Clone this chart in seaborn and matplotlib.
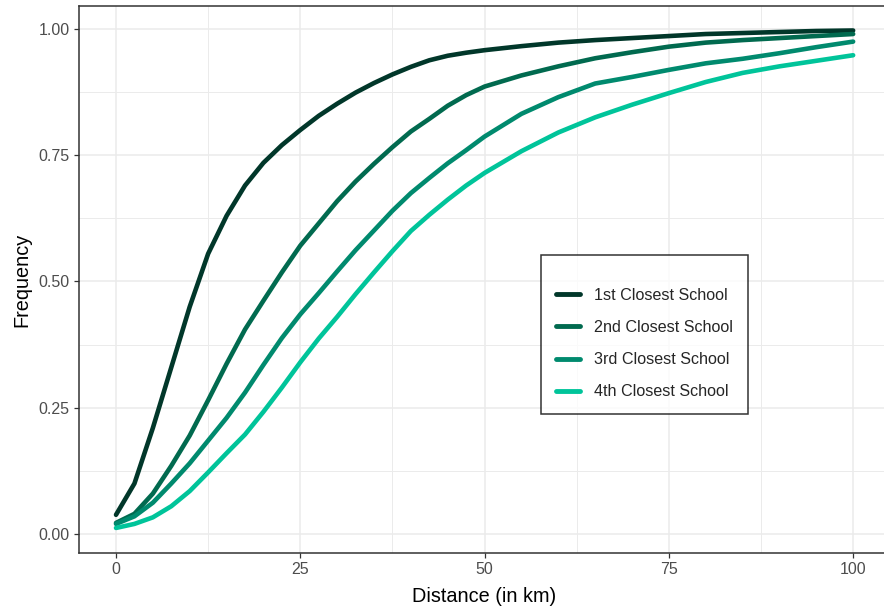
import matplotlib
matplotlib.use("Agg")
import matplotlib.pyplot as plt
from matplotlib.ticker import MultipleLocator
import seaborn as sns
import numpy as np
import pandas as pd

# distance grid (km)
distance = [0, 2.5, 5, 7.5, 10, 12.5, 15, 17.5, 20, 22.5, 25, 27.5, 30, 32.5,
            35, 37.5, 40, 42.5, 45, 47.5, 50, 55, 60, 65, 70, 75, 80, 85, 90, 95, 100]

# cumulative share of students within a given distance
first = [0.038, 0.10, 0.21, 0.33, 0.45, 0.555, 0.63, 0.69, 0.735, 0.77, 0.80,
         0.828, 0.852, 0.874, 0.893, 0.91, 0.925, 0.938, 0.947, 0.953, 0.958,
         0.966, 0.973, 0.978, 0.982, 0.986, 0.99, 0.992, 0.994, 0.996, 0.997]
second = [0.022, 0.04, 0.08, 0.135, 0.195, 0.265, 0.337, 0.405, 0.462, 0.518,
          0.571, 0.615, 0.659, 0.698, 0.733, 0.766, 0.797, 0.822, 0.848, 0.869,
          0.886, 0.908, 0.926, 0.942, 0.954, 0.965, 0.973, 0.978, 0.982, 0.986, 0.99]
third = [0.02, 0.035, 0.062, 0.10, 0.14, 0.185, 0.23, 0.28, 0.335, 0.388, 0.435,
         0.477, 0.52, 0.562, 0.601, 0.64, 0.675, 0.705, 0.734, 0.76, 0.787,
         0.832, 0.865, 0.892, 0.905, 0.919, 0.932, 0.941, 0.952, 0.964, 0.975]
fourth = [0.012, 0.02, 0.033, 0.055, 0.085, 0.122, 0.16, 0.197, 0.242, 0.29,
          0.34, 0.387, 0.43, 0.475, 0.518, 0.56, 0.60, 0.632, 0.662, 0.69,
          0.715, 0.758, 0.795, 0.825, 0.85, 0.873, 0.895, 0.913, 0.926, 0.937, 0.948]

labels = ["1st Closest School", "2nd Closest School",
          "3rd Closest School", "4th Closest School"]
colors = ["#01372A", "#016A4F", "#008A6E", "#00C49A"]

df = pd.concat([
    pd.DataFrame({"distance": distance, "freq": vals, "school": lab})
    for vals, lab in zip([first, second, third, fourth], labels)
])

sns.set_theme(style="white")
plt.rcParams["font.family"] = ["Liberation Sans", "DejaVu Sans"]

fig = plt.figure(figsize=(8.84, 6.12), dpi=100)
ax = fig.add_axes([79 / 884, 59 / 612, 811 / 884, 547 / 612])

sns.lineplot(data=df, x="distance", y="freq", hue="school",
             palette=dict(zip(labels, colors)), linewidth=3.3, ax=ax)

ax.set_xlim(-5.02, 105.0)
ax.set_ylim(-0.0376, 1.0455)
ax.xaxis.set_major_locator(MultipleLocator(25))
ax.xaxis.set_minor_locator(MultipleLocator(12.5))
ax.yaxis.set_major_locator(MultipleLocator(0.25))
ax.yaxis.set_minor_locator(MultipleLocator(0.125))
ax.set_yticks([0, 0.25, 0.5, 0.75, 1.0])
ax.set_yticklabels(["0.00", "0.25", "0.50", "0.75", "1.00"])

ax.grid(which="major", color="#EBEBEB", linewidth=1.1)
ax.grid(which="minor", color="#EBEBEB", linewidth=0.7)
ax.set_axisbelow(True)
for sp in ax.spines.values():
    sp.set_color("#333333")
    sp.set_linewidth(1.1)

ax.tick_params(which="major", length=3.8, width=0.9, color="#333333", pad=3,
               labelsize=11.5, labelcolor="#4D4D4D", bottom=True, left=True)
ax.tick_params(which="minor", length=0)

ax.set_xlabel("Distance (in km)", fontsize=14.3, color="black", labelpad=7)
ax.set_ylabel("Frequency", fontsize=14.3, color="black", labelpad=5)

leg = ax.legend(title=" ", title_fontsize=1, loc="upper left",
                bbox_to_anchor=((541 - 79) / 811, (553 - 255) / 547),
                fontsize=11.6, frameon=True, fancybox=False, handlelength=1.55,
                labelspacing=1.07, borderpad=0.9, handletextpad=0.86,
                borderaxespad=0)
leg.get_frame().set_edgecolor("black")
leg.get_frame().set_linewidth(1.1)
for line in leg.get_lines():
    line.set_linewidth(3.5)

fig.savefig("out.png", dpi=100)
